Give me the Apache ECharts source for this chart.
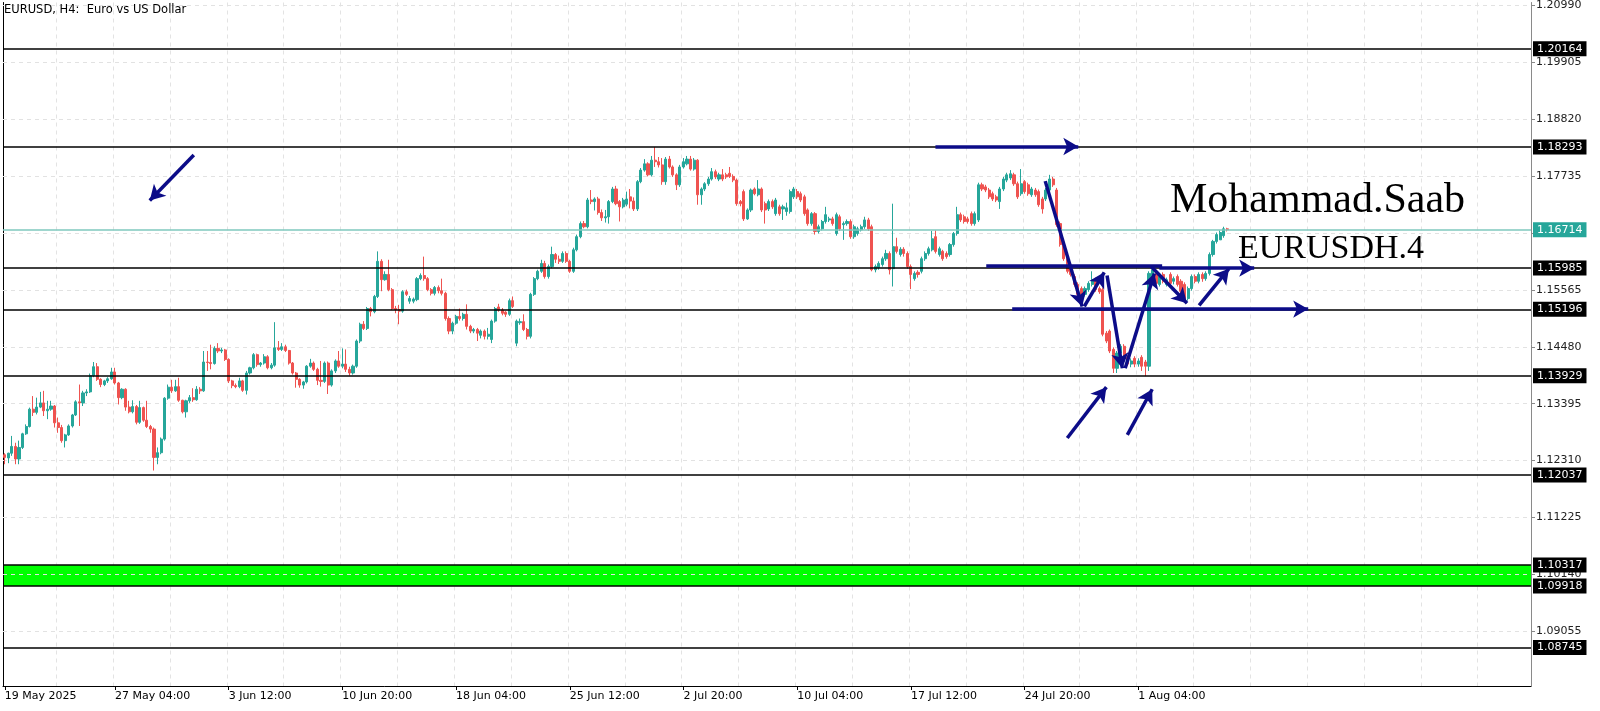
<!DOCTYPE html>
<html><head><meta charset="utf-8">
<script src="https://cdn.jsdelivr.net/npm/echarts@6/dist/echarts.min.js"></script>
<style>html,body{margin:0;padding:0;background:#fff}#chart{width:1600px;height:711px}</style>
</head><body><div id="chart"></div>
<script>
// ---------------- data ----------------
const chartTitle = 'EURUSD, H4:  Euro vs US Dollar';
const firstBarTime = '2025-05-20T00:00:00Z';
const barSlots = 430;
const firstAxisLabel = '19 May 2025';
const xTickLabels = ['27 May 04:00','3 Jun 12:00','10 Jun 20:00','18 Jun 04:00','25 Jun 12:00','2 Jul 20:00','10 Jul 04:00','17 Jul 12:00','24 Jul 20:00','1 Aug 04:00'];
const yTicks = [1.20990,1.19905,1.18820,1.17735,1.16650,1.15565,1.14480,1.13395,1.12310,1.11225,1.10140,1.09055];
const yRange = [1.08010, 1.21047];
const levels = [1.20164,1.18293,1.15985,1.15196,1.13929,1.12037,1.10317,1.09918,1.08745];
const currentPrice = 1.16714;
const zone = [1.10317, 1.09918];
const authorText = 'Mohammad.Saab';
const symbolText = 'EURUSDH.4';
// [open, close, low, high]
const ohlc = [
[1.1242,1.1237,1.1224,1.1245],[1.1236,1.1245,1.1226,1.1246],[1.1245,1.1258,1.1240,1.1278],[1.1258,1.1234,1.1224,1.1265],
[1.1234,1.1256,1.1224,1.1269],[1.1256,1.1282,1.1253,1.1284],[1.1282,1.1296,1.1280,1.1300],[1.1296,1.1329,1.1294,1.1332],
[1.1329,1.1323,1.1316,1.1354],[1.1323,1.1333,1.1319,1.1351],[1.1333,1.1341,1.1331,1.1362],[1.1341,1.1326,1.1316,1.1364],
[1.1326,1.1329,1.1310,1.1345],[1.1329,1.1335,1.1326,1.1345],[1.1335,1.1303,1.1294,1.1337],[1.1303,1.1294,1.1284,1.1313],
[1.1294,1.1269,1.1265,1.1299],[1.1269,1.1280,1.1256,1.1282],[1.1280,1.1297,1.1278,1.1300],[1.1297,1.1318,1.1294,1.1320],
[1.1318,1.1343,1.1316,1.1346],[1.1343,1.1341,1.1297,1.1376],[1.1341,1.1360,1.1335,1.1364],[1.1360,1.1362,1.1354,1.1367],
[1.1362,1.1393,1.1360,1.1397],[1.1393,1.1410,1.1390,1.1419],[1.1410,1.1386,1.1383,1.1417],[1.1386,1.1376,1.1371,1.1388],
[1.1376,1.1383,1.1373,1.1385],[1.1383,1.1387,1.1379,1.1390],[1.1387,1.1400,1.1385,1.1408],[1.1400,1.1379,1.1376,1.1408],
[1.1379,1.1351,1.1338,1.1381],[1.1351,1.1367,1.1348,1.1369],[1.1367,1.1333,1.1326,1.1369],[1.1333,1.1324,1.1321,1.1345],
[1.1324,1.1334,1.1321,1.1346],[1.1334,1.1304,1.1300,1.1337],[1.1304,1.1332,1.1301,1.1345],[1.1332,1.1308,1.1305,1.1334],
[1.1308,1.1296,1.1293,1.1345],[1.1296,1.1291,1.1284,1.1299],[1.1291,1.1237,1.1212,1.1294],[1.1237,1.1246,1.1224,1.1256],
[1.1246,1.1272,1.1243,1.1275],[1.1272,1.1350,1.1269,1.1352],[1.1350,1.1371,1.1347,1.1376],[1.1371,1.1364,1.1360,1.1385],
[1.1364,1.1372,1.1362,1.1385],[1.1372,1.1346,1.1343,1.1389],[1.1346,1.1324,1.1321,1.1347],[1.1324,1.1345,1.1313,1.1347],
[1.1345,1.1351,1.1341,1.1356],[1.1351,1.1347,1.1343,1.1369],[1.1347,1.1367,1.1345,1.1373],[1.1367,1.1364,1.1358,1.1371],
[1.1364,1.1419,1.1362,1.1440],[1.1419,1.1418,1.1402,1.1440],[1.1418,1.1416,1.1405,1.1452],[1.1416,1.1445,1.1414,1.1449],
[1.1445,1.1440,1.1436,1.1455],[1.1440,1.1442,1.1436,1.1446],[1.1442,1.1424,1.1421,1.1444],[1.1424,1.1383,1.1379,1.1426],
[1.1383,1.1374,1.1369,1.1385],[1.1374,1.1372,1.1369,1.1378],[1.1372,1.1383,1.1369,1.1389],[1.1383,1.1365,1.1362,1.1385],
[1.1365,1.1398,1.1357,1.1402],[1.1398,1.1408,1.1395,1.1410],[1.1408,1.1433,1.1405,1.1436],[1.1433,1.1414,1.1410,1.1435],
[1.1414,1.1417,1.1410,1.1419],[1.1417,1.1429,1.1414,1.1434],[1.1429,1.1408,1.1405,1.1432],[1.1408,1.1413,1.1405,1.1417],
[1.1413,1.1446,1.1410,1.1495],[1.1446,1.1443,1.1440,1.1459],[1.1443,1.1448,1.1440,1.1455],[1.1448,1.1441,1.1438,1.1452],
[1.1441,1.1417,1.1414,1.1442],[1.1417,1.1398,1.1395,1.1419],[1.1398,1.1386,1.1370,1.1400],[1.1386,1.1375,1.1370,1.1388],
[1.1375,1.1381,1.1368,1.1383],[1.1381,1.1411,1.1378,1.1413],[1.1411,1.1417,1.1408,1.1425],[1.1417,1.1405,1.1402,1.1420],
[1.1405,1.1384,1.1375,1.1408],[1.1384,1.1382,1.1372,1.1421],[1.1382,1.1417,1.1379,1.1420],[1.1417,1.1375,1.1358,1.1420],
[1.1375,1.1402,1.1372,1.1405],[1.1402,1.1421,1.1398,1.1424],[1.1421,1.1411,1.1408,1.1440],[1.1411,1.1415,1.1407,1.1445],
[1.1415,1.1405,1.1400,1.1443],[1.1405,1.1398,1.1393,1.1410],[1.1398,1.1411,1.1395,1.1414],[1.1411,1.1459,1.1408,1.1462],
[1.1459,1.1491,1.1455,1.1494],[1.1491,1.1483,1.1480,1.1497],[1.1483,1.1521,1.1480,1.1524],[1.1521,1.1515,1.1506,1.1524],
[1.1515,1.1544,1.1512,1.1547],[1.1544,1.1611,1.1541,1.1630],[1.1611,1.1576,1.1554,1.1615],[1.1576,1.1586,1.1574,1.1592],
[1.1586,1.1557,1.1554,1.1614],[1.1557,1.1521,1.1518,1.1560],[1.1521,1.1519,1.1512,1.1526],[1.1519,1.1516,1.1491,1.1528],
[1.1516,1.1553,1.1513,1.1556],[1.1553,1.1548,1.1545,1.1557],[1.1535,1.1540,1.1530,1.1545],[1.1535,1.1539,1.1531,1.1542],
[1.1538,1.1578,1.1535,1.1581],[1.1578,1.1584,1.1575,1.1588],[1.1584,1.1578,1.1574,1.1620],[1.1578,1.1557,1.1554,1.1581],
[1.1557,1.1550,1.1546,1.1560],[1.1550,1.1561,1.1546,1.1564],[1.1561,1.1555,1.1550,1.1565],[1.1555,1.1550,1.1546,1.1578],
[1.1550,1.1502,1.1498,1.1553],[1.1502,1.1478,1.1472,1.1506],[1.1478,1.1493,1.1472,1.1496],[1.1493,1.1506,1.1490,1.1509],
[1.1506,1.1502,1.1498,1.1521],[1.1502,1.1510,1.1498,1.1513],[1.1510,1.1487,1.1481,1.1529],[1.1487,1.1478,1.1474,1.1490],
[1.1478,1.1481,1.1474,1.1484],[1.1481,1.1474,1.1459,1.1484],[1.1470,1.1478,1.1464,1.1481],[1.1478,1.1468,1.1462,1.1481],
[1.1468,1.1472,1.1462,1.1484],[1.1462,1.1497,1.1455,1.1500],[1.1497,1.1521,1.1494,1.1524],[1.1524,1.1518,1.1515,1.1530],
[1.1518,1.1512,1.1508,1.1522],[1.1514,1.1510,1.1505,1.1516],[1.1510,1.1536,1.1507,1.1540],[1.1536,1.1525,1.1522,1.1544],
[1.1455,1.1497,1.1449,1.1500],[1.1494,1.1496,1.1490,1.1502],[1.1496,1.1481,1.1478,1.1510],[1.1481,1.1468,1.1462,1.1484],
[1.1468,1.1548,1.1464,1.1551],[1.1548,1.1578,1.1545,1.1581],[1.1578,1.1592,1.1575,1.1595],[1.1592,1.1607,1.1589,1.1614],
[1.1607,1.1582,1.1578,1.1612],[1.1582,1.1601,1.1578,1.1605],[1.1601,1.1624,1.1598,1.1639],[1.1624,1.1615,1.1608,1.1627],
[1.1615,1.1611,1.1606,1.1622],[1.1611,1.1626,1.1608,1.1630],[1.1626,1.1611,1.1608,1.1630],[1.1611,1.1592,1.1589,1.1614],
[1.1592,1.1633,1.1589,1.1637],[1.1633,1.1658,1.1630,1.1662],[1.1658,1.1683,1.1655,1.1687],[1.1683,1.1677,1.1674,1.1688],
[1.1677,1.1728,1.1674,1.1732],[1.1728,1.1725,1.1720,1.1747],[1.1725,1.1730,1.1708,1.1733],[1.1730,1.1704,1.1700,1.1734],
[1.1704,1.1694,1.1688,1.1710],[1.1694,1.1696,1.1685,1.1709],[1.1696,1.1725,1.1683,1.1728],[1.1725,1.1749,1.1722,1.1753],
[1.1749,1.1721,1.1718,1.1755],[1.1725,1.1715,1.1687,1.1728],[1.1715,1.1728,1.1712,1.1732],[1.1720,1.1730,1.1716,1.1744],
[1.1734,1.1726,1.1712,1.1749],[1.1726,1.1711,1.1707,1.1733],[1.1711,1.1763,1.1707,1.1766],[1.1763,1.1785,1.1760,1.1789],
[1.1785,1.1797,1.1782,1.1806],[1.1797,1.1776,1.1773,1.1800],[1.1776,1.1804,1.1773,1.1812],[1.1804,1.1801,1.1791,1.1829],
[1.1801,1.1795,1.1790,1.1810],[1.1795,1.1763,1.1757,1.1808],[1.1763,1.1806,1.1757,1.1810],[1.1806,1.1791,1.1788,1.1812],
[1.1791,1.1776,1.1772,1.1794],[1.1776,1.1757,1.1747,1.1779],[1.1757,1.1791,1.1753,1.1795],[1.1791,1.1801,1.1788,1.1808],
[1.1797,1.1806,1.1794,1.1812],[1.1806,1.1787,1.1784,1.1812],[1.1787,1.1804,1.1784,1.1808],[1.1804,1.1738,1.1719,1.1806],
[1.1738,1.1749,1.1719,1.1752],[1.1749,1.1759,1.1745,1.1762],[1.1759,1.1768,1.1755,1.1772],[1.1768,1.1782,1.1765,1.1789],
[1.1782,1.1772,1.1768,1.1786],[1.1768,1.1776,1.1764,1.1780],[1.1776,1.1768,1.1764,1.1787],[1.1776,1.1772,1.1768,1.1780],
[1.1779,1.1773,1.1770,1.1791],[1.1773,1.1766,1.1762,1.1777],[1.1766,1.1721,1.1717,1.1769],[1.1725,1.1721,1.1716,1.1728],
[1.1744,1.1692,1.1688,1.1748],[1.1692,1.1709,1.1690,1.1712],[1.1709,1.1747,1.1705,1.1750],[1.1749,1.1740,1.1737,1.1752],
[1.1738,1.1749,1.1735,1.1766],[1.1749,1.1709,1.1705,1.1752],[1.1721,1.1709,1.1683,1.1725],[1.1711,1.1725,1.1707,1.1729],
[1.1725,1.1715,1.1711,1.1729],[1.1702,1.1728,1.1698,1.1732],[1.1715,1.1702,1.1698,1.1719],[1.1711,1.1715,1.1690,1.1719],
[1.1706,1.1713,1.1698,1.1723],[1.1706,1.1744,1.1702,1.1748],[1.1734,1.1749,1.1730,1.1753],[1.1744,1.1734,1.1730,1.1749],
[1.1740,1.1728,1.1724,1.1744],[1.1734,1.1702,1.1698,1.1738],[1.1709,1.1683,1.1679,1.1712],[1.1683,1.1702,1.1679,1.1705],
[1.1702,1.1668,1.1662,1.1705],[1.1668,1.1677,1.1664,1.1681],[1.1673,1.1687,1.1670,1.1690],[1.1687,1.1700,1.1683,1.1715],
[1.1690,1.1692,1.1686,1.1696],[1.1692,1.1683,1.1679,1.1696],[1.1664,1.1700,1.1660,1.1704],[1.1696,1.1673,1.1669,1.1700],
[1.1681,1.1683,1.1652,1.1687],[1.1683,1.1687,1.1679,1.1691],[1.1687,1.1658,1.1654,1.1691],[1.1658,1.1677,1.1654,1.1681],
[1.1664,1.1673,1.1660,1.1677],[1.1671,1.1677,1.1668,1.1681],[1.1677,1.1690,1.1673,1.1696],[1.1690,1.1673,1.1669,1.1694],
[1.1677,1.1595,1.1592,1.1681],[1.1595,1.1601,1.1590,1.1605],[1.1599,1.1607,1.1595,1.1611],[1.1605,1.1616,1.1601,1.1620],
[1.1616,1.1626,1.1612,1.1633],[1.1626,1.1595,1.1586,1.1630],[1.1597,1.1639,1.1563,1.1721],[1.1639,1.1630,1.1626,1.1656],
[1.1624,1.1634,1.1620,1.1638],[1.1634,1.1626,1.1620,1.1638],[1.1626,1.1601,1.1597,1.1630],[1.1601,1.1586,1.1558,1.1605],
[1.1578,1.1588,1.1574,1.1592],[1.1590,1.1586,1.1580,1.1594],[1.1592,1.1616,1.1588,1.1620],[1.1616,1.1626,1.1612,1.1630],
[1.1626,1.1635,1.1622,1.1639],[1.1633,1.1654,1.1630,1.1669],[1.1658,1.1630,1.1626,1.1670],[1.1624,1.1635,1.1620,1.1639],
[1.1630,1.1616,1.1612,1.1633],[1.1626,1.1620,1.1616,1.1630],[1.1624,1.1643,1.1620,1.1646],[1.1643,1.1664,1.1639,1.1667],
[1.1664,1.1700,1.1660,1.1715],[1.1700,1.1690,1.1686,1.1704],[1.1696,1.1687,1.1683,1.1700],[1.1692,1.1687,1.1683,1.1696],
[1.1702,1.1683,1.1679,1.1706],[1.1683,1.1702,1.1679,1.1706],[1.1690,1.1757,1.1686,1.1761],[1.1757,1.1749,1.1745,1.1761],
[1.1753,1.1747,1.1743,1.1757],[1.1747,1.1734,1.1730,1.1751],[1.1740,1.1730,1.1726,1.1744],[1.1734,1.1728,1.1724,1.1738],
[1.1725,1.1749,1.1711,1.1753],[1.1749,1.1768,1.1745,1.1772],[1.1766,1.1776,1.1762,1.1780],[1.1770,1.1778,1.1766,1.1785],
[1.1776,1.1759,1.1755,1.1780],[1.1759,1.1734,1.1730,1.1763],[1.1740,1.1759,1.1736,1.1787],[1.1763,1.1744,1.1740,1.1766],
[1.1757,1.1740,1.1736,1.1761],[1.1738,1.1749,1.1734,1.1753],[1.1747,1.1738,1.1734,1.1751],[1.1744,1.1719,1.1715,1.1748],
[1.1730,1.1711,1.1702,1.1734],[1.1730,1.1747,1.1726,1.1751],[1.1747,1.1768,1.1743,1.1776],[1.1768,1.1757,1.1753,1.1772],
[1.1747,1.1681,1.1677,1.1751],[1.1683,1.1643,1.1639,1.1687],[1.1645,1.1616,1.1612,1.1649],[1.1616,1.1592,1.1588,1.1620],
[1.1597,1.1586,1.1582,1.1601],[1.1582,1.1567,1.1563,1.1586],[1.1567,1.1548,1.1540,1.1571],[1.1559,1.1548,1.1544,1.1563],
[1.1548,1.1559,1.1544,1.1563],[1.1557,1.1569,1.1553,1.1573],[1.1567,1.1576,1.1563,1.1592],[1.1576,1.1557,1.1553,1.1580],
[1.1559,1.1553,1.1549,1.1563],[1.1557,1.1472,1.1468,1.1561],[1.1474,1.1459,1.1455,1.1478],[1.1478,1.1440,1.1436,1.1481],
[1.1443,1.1407,1.1398,1.1447],[1.1407,1.1436,1.1398,1.1440],[1.1436,1.1449,1.1432,1.1453],[1.1449,1.1426,1.1422,1.1453],
[1.1428,1.1415,1.1411,1.1432],[1.1415,1.1421,1.1409,1.1426],[1.1426,1.1415,1.1409,1.1430],[1.1415,1.1421,1.1410,1.1426],
[1.1428,1.1411,1.1402,1.1432],[1.1419,1.1411,1.1392,1.1423],[1.1411,1.1588,1.1402,1.1592],[1.1578,1.1595,1.1574,1.1599],
[1.1588,1.1569,1.1565,1.1592],[1.1567,1.1582,1.1563,1.1586],[1.1586,1.1573,1.1569,1.1590],[1.1567,1.1576,1.1563,1.1580],
[1.1586,1.1569,1.1565,1.1590],[1.1573,1.1578,1.1567,1.1582],[1.1582,1.1567,1.1563,1.1586],[1.1573,1.1554,1.1550,1.1577],
[1.1567,1.1540,1.1535,1.1571],[1.1540,1.1559,1.1536,1.1563],[1.1559,1.1582,1.1555,1.1586],[1.1582,1.1573,1.1569,1.1586],
[1.1573,1.1586,1.1569,1.1590],[1.1586,1.1578,1.1572,1.1590],[1.1578,1.1588,1.1574,1.1592],[1.1588,1.1624,1.1584,1.1628],
[1.1624,1.1649,1.1620,1.1652],[1.1649,1.1662,1.1645,1.1666],[1.1652,1.1666,1.1652,1.1670],[1.1660,1.1673,1.1656,1.1677],
[1.1673,1.16714,1.1668,1.1675]
];
// hand-drawn annotations: [barIndex1, price1, barIndex2, price2]
const arrowSegments = [
  [53.2,1.1814,40.8,1.1727],[261.9,1.1830,302.1,1.1830],[292.8,1.1764,303.2,1.1525],
  [303.8,1.1525,309.4,1.1590],[310.2,1.1584,314.5,1.1407],[315.3,1.1407,323.5,1.1588],
  [322.6,1.1601,332.7,1.1531],[336.1,1.1527,344.5,1.1597],[324.9,1.1598,351.6,1.1598],
  [283.5,1.1520,366.8,1.1520],[299.0,1.1274,310.0,1.1371],[315.9,1.1280,322.9,1.1367]
];
const plainSegments = [[276.2,1.1603,325.7,1.1603]];

// ---------------- build ----------------
const MONTHS = ['Jan','Feb','Mar','Apr','May','Jun','Jul','Aug','Sep','Oct','Nov','Dec'];
function barTimes(startIso, n) {
  const out = []; let t = Date.parse(startIso);
  while (out.length < n) {
    const d = new Date(t); const wd = d.getUTCDay();
    if (wd >= 1 && wd <= 5) out.push(d.getUTCDate() + ' ' + MONTHS[d.getUTCMonth()] + ' ' + String(d.getUTCHours()).padStart(2,'0') + ':00');
    t += 4 * 3600 * 1000;
  }
  return out;
}
const categories = barTimes(firstBarTime, barSlots);
const tickSet = new Set(xTickLabels);
const showX = (i, v) => i === 0 || tickSet.has(v);
const FONT = 'DejaVu Sans';
const NAVY = '#0c0c88';

const chart = echarts.init(document.getElementById('chart'), null, {renderer: 'canvas'});
const seg = (s) => [{coord: [s[0], s[1]]}, {coord: [s[2], s[3]]}];

chart.setOption({
  animation: false,
  backgroundColor: '#ffffff',
  title: {text: chartTitle, left: 4, top: 4, padding: 0,
    textStyle: {fontFamily: FONT, fontSize: 11.5, fontWeight: 'normal', color: '#000'}},
  grid: {left: 3, right: 69, top: 0, bottom: 25},
  xAxis: [
    {type: 'category', data: categories, boundaryGap: true,
      axisLine: {show: true, onZero: false, lineStyle: {color: '#000', width: 1}},
      axisTick: {show: true, alignWithLabel: true, interval: showX, length: 4, lineStyle: {color: '#000'}},
      axisLabel: {interval: showX, formatter: (v, i) => i === 0 ? firstAxisLabel : v, align: 'left', margin: 5,
        fontFamily: FONT, fontSize: 11, color: '#000'},
      splitLine: {show: true, interval: (i) => i % 16 === 15, lineStyle: {color: '#e3e3e3', type: [4, 4], width: 1}}},
    {type: 'value', min: -0.5, max: barSlots - 0.5, show: false}
  ],
  yAxis: [
    {type: 'value', position: 'right', min: yRange[0], max: yRange[1],
      axisLine: {show: true, onZero: false, lineStyle: {color: '#8a8a8a', width: 1}},
      axisTick: {show: true, customValues: yTicks, length: 4, lineStyle: {color: '#8a8a8a'}},
      axisLabel: {customValues: yTicks, formatter: (v) => Number(v).toFixed(5), margin: 5,
        fontFamily: FONT, fontSize: 11, color: '#222'},
      splitLine: {show: false}},
    {type: 'value', position: 'left', min: yRange[0], max: yRange[1],
      axisLine: {show: true, onZero: false, lineStyle: {color: '#000', width: 1}},
      axisTick: {show: false}, axisLabel: {show: false}, splitLine: {show: false}}
  ],
  series: [
    {type: 'line', xAxisIndex: 0, yAxisIndex: 0, data: [], silent: true,
      markArea: {silent: true, z: 0, itemStyle: {color: '#00ff00', opacity: 1},
        data: [[{yAxis: zone[0]}, {yAxis: zone[1]}]]},
      markLine: {silent: true, z: 1, precision: 5, symbol: 'none', label: {show: false},
        lineStyle: {color: '#e2e2e2', type: [4, 4], width: 1},
        data: yTicks.map(v => ({yAxis: v}))}},
    {type: 'candlestick', xAxisIndex: 0, yAxisIndex: 0, z: 2, barWidth: 2.6, data: ohlc,
      itemStyle: {color: '#26a69a', color0: '#ef5350', borderColor: '#26a69a', borderColor0: '#ef5350', borderWidth: 1}},
    {type: 'line', xAxisIndex: 0, yAxisIndex: 0, data: [], silent: true,
      markLine: {silent: true, z: 4, precision: 5, symbol: 'none',
        lineStyle: {color: '#7fc9be', type: 'solid', width: 1.5},
        label: {show: true, position: 'end', distance: 2, formatter: (p) => Number(p.value).toFixed(5),
          backgroundColor: '#26a69a', color: '#fff', padding: [2, 4, 2, 4], fontFamily: FONT, fontSize: 11},
        data: [{yAxis: currentPrice}]}},
    {type: 'line', xAxisIndex: 0, yAxisIndex: 0, data: [], silent: true,
      markLine: {silent: true, z: 5, precision: 5, symbol: 'none',
        lineStyle: {color: '#000', type: 'solid', width: 1.6},
        label: {show: true, position: 'end', distance: 2, formatter: (p) => Number(p.value).toFixed(5),
          backgroundColor: '#000', color: '#fff', padding: [2, 4, 2, 4], fontFamily: FONT, fontSize: 11},
        data: levels.map(v => ({yAxis: v}))}},
    {type: 'line', xAxisIndex: 1, yAxisIndex: 0, data: [], silent: true,
      markLine: {silent: true, z: 6, precision: 5, symbol: ['none', 'arrow'], symbolSize: [13, 15],
        lineStyle: {color: NAVY, type: 'solid', width: 3.5}, label: {show: false},
        data: arrowSegments.map(seg)}},
    {type: 'line', xAxisIndex: 1, yAxisIndex: 0, data: [], silent: true,
      markLine: {silent: true, z: 6, precision: 5, symbol: 'none',
        lineStyle: {color: NAVY, type: 'solid', width: 3.5}, label: {show: false},
        data: plainSegments.map(seg)}}
  ],
  graphic: [
    {type: 'text', z: 10, style: {text: authorText, x: 1170, y: 201, verticalAlign: 'middle',
      font: '42px "Liberation Serif"', fill: '#000'}},
    {type: 'text', z: 10, style: {text: symbolText, x: 1238, y: 249, verticalAlign: 'middle',
      font: '34px "Liberation Serif"', fill: '#000'}}
  ]
});
</script>
</body></html>
